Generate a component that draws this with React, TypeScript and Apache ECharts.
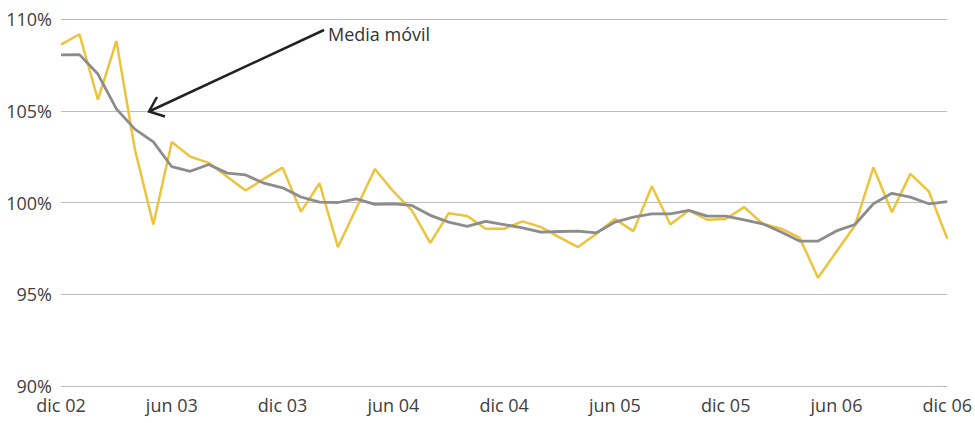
import React, { useEffect, useRef } from "react";
import * as echarts from "echarts";

const months = ["ene", "feb", "mar", "abr", "may", "jun", "jul", "ago", "sep", "oct", "nov", "dic"];
const categories: string[] = [];
for (let i = 0; i < 49; i++) {
  const m = (11 + i) % 12;
  const y = 2 + Math.floor((11 + i) / 12);
  categories.push(`${months[m]} 0${y}`);
}

const indice = [
  108.6, 109.17, 105.6, 108.8, 102.9, 98.8, 103.3, 102.5, 102.16, 101.4,
  100.65, 101.3, 101.9, 99.5, 101.05, 97.57, 99.7, 101.83, 100.6, 99.57,
  97.8, 99.42, 99.26, 98.57, 98.57, 98.97, 98.66, 98.1, 97.57, 98.3,
  99.1, 98.44, 100.89, 98.8, 99.57, 99.06, 99.1, 99.75, 98.84, 98.57,
  98.08, 95.9, 97.33, 98.75, 101.92, 99.47, 101.56, 100.61, 98.03,
];

const mediaMovil = [
  108.04, 108.06, 107.0, 105.1, 104.0, 103.3, 101.95, 101.7, 102.07, 101.6,
  101.5, 101.05, 100.8, 100.3, 100.02, 100.0, 100.2, 99.9, 99.93, 99.84,
  99.3, 98.93, 98.7, 98.97, 98.8, 98.62, 98.39, 98.42, 98.44, 98.35,
  98.93, 99.2, 99.38, 99.38, 99.57, 99.26, 99.26, 99.05, 98.84, 98.39,
  97.9, 97.9, 98.45, 98.8, 99.93, 100.5, 100.29, 99.93, 100.05,
];

const yTicks = { min: 90, max: 110, interval: 5 };
const annotationText = "Media móvil";

export default function App() {
  const ref = useRef<HTMLDivElement>(null);
  useEffect(() => {
    if (!ref.current) return;
    const chart = echarts.init(ref.current, null, { renderer: "svg" });
    const font = "'Open Sans', sans-serif";
    chart.setOption({
      animation: false,
      backgroundColor: "#ffffff",
      grid: { left: 61, right: 26, top: 19, bottom: 37, containLabel: false },
      xAxis: {
        type: "category",
        data: categories,
        boundaryGap: false,
        axisLine: { show: false },
        axisTick: { show: false },
        axisLabel: {
          interval: 5,
          color: "#404040",
          fontFamily: font,
          fontSize: 18,
          margin: 10,
        },
        splitLine: { show: false },
      },
      yAxis: {
        type: "value",
        min: yTicks.min,
        max: yTicks.max,
        interval: yTicks.interval,
        axisLine: { show: false },
        axisTick: { show: false },
        axisLabel: {
          formatter: (v: number) => `${v}%`,
          color: "#404040",
          fontFamily: font,
          fontSize: 18,
          margin: 9,
        },
        splitLine: { lineStyle: { color: "#bdbdbd", width: 1 } },
      },
      series: [
        {
          type: "line",
          name: "Índice",
          data: indice,
          symbol: "none",
          lineStyle: { color: "#ebc43c", width: 2.5 },
          z: 2,
        },
        {
          type: "line",
          name: "Media móvil",
          data: mediaMovil,
          symbol: "none",
          lineStyle: { color: "#8c8c8c", width: 2.8 },
          z: 3,
        },
      ],
      graphic: [
        {
          type: "line",
          shape: { x1: 324, y1: 30, x2: 150, y2: 111 },
          style: { stroke: "#222222", lineWidth: 2.5 },
          z: 10,
        },
        {
          type: "polyline",
          shape: { points: [[157, 97], [149, 111.5], [165, 116.5]] },
          style: { stroke: "#222222", lineWidth: 2.5, fill: "none" },
          z: 10,
        },
        {
          type: "text",
          x: 328,
          y: 34,
          style: {
            text: annotationText,
            fontFamily: font,
            fontSize: 18,
            fill: "#333333",
            verticalAlign: "middle",
          },
          z: 10,
        },
      ],
    });
    return () => chart.dispose();
  }, []);
  return <div ref={ref} style={{ width: 975, height: 423, position: "absolute", left: 0, top: 0 }} />;
}
